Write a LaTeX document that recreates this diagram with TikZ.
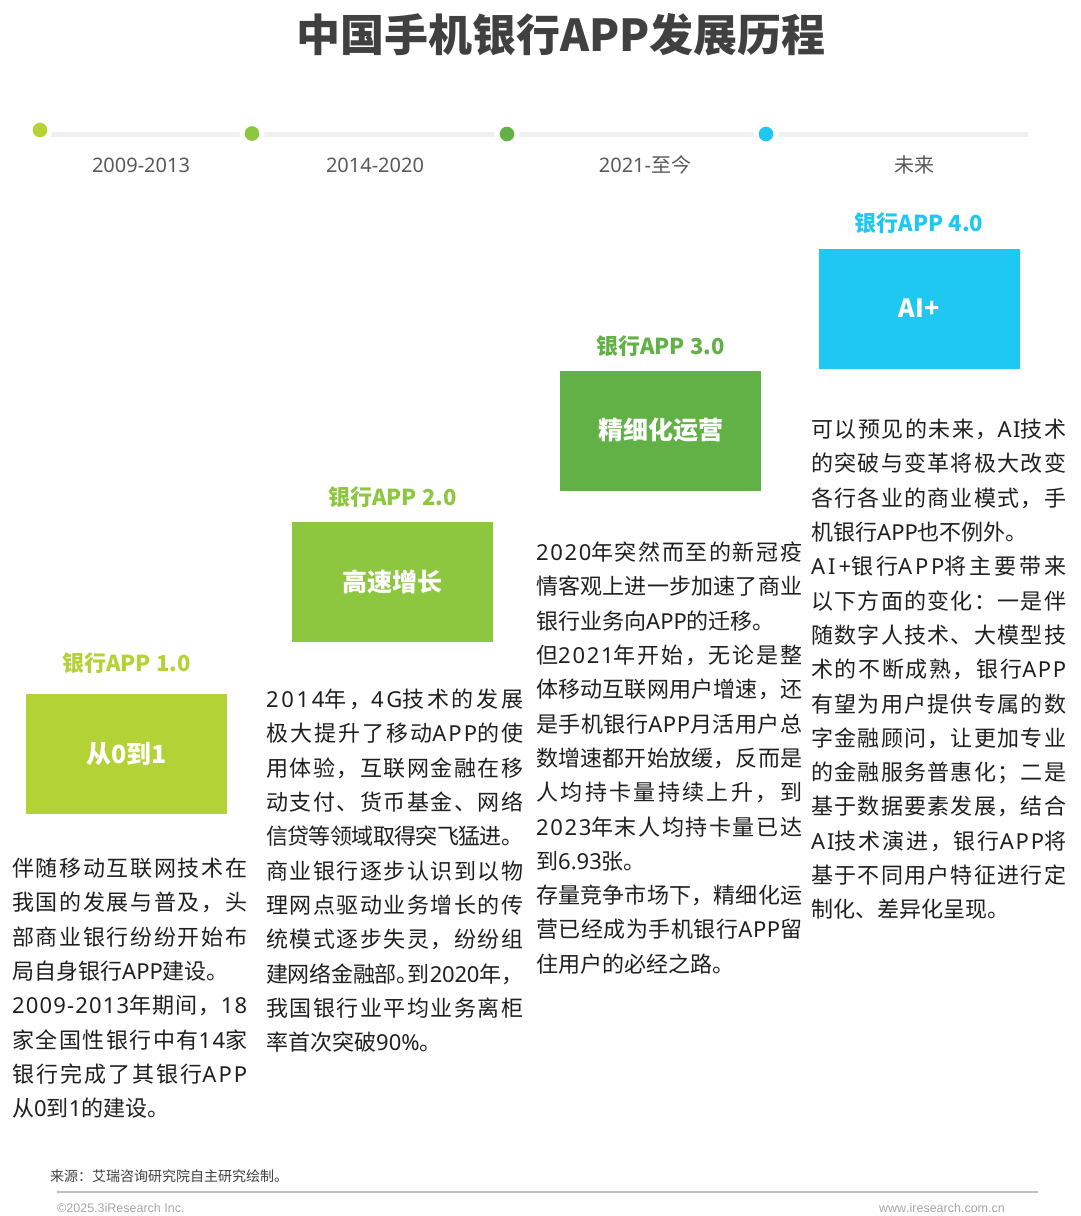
\documentclass[tikz,border=0pt]{standalone}
\usepackage{fontspec}
\setmainfont{Noto Sans CJK SC}
\newfontfamily\latf{Noto Sans}
\newfontfamily\arialf{Liberation Sans}
\newcommand\la[1]{{\latf #1}}
\XeTeXlinebreaklocale "zh"
\XeTeXlinebreakskip=0pt plus 4pt minus 1.5pt
\newskip\jskip
\jskip=0pt plus 4pt minus 1pt
\newcommand\jglue{\nobreak\hskip\jskip}
\XeTeXinterchartoks 0 0 = {\jglue}
\XeTeXinterchartoks 0 1 = {\jglue}
\XeTeXinterchartoks 1 0 = {\jglue}
\XeTeXinterchartoks 3 0 = {\jglue}
\XeTeXinterchartokenstate=1
\setlength\parindent{0pt}
\setlength\parskip{0pt}
\definecolor{ttl}{HTML}{404040}
\definecolor{per}{HTML}{595959}
\definecolor{txt}{HTML}{1F1F1F}
\definecolor{tl}{HTML}{F0F0F0}
\definecolor{cA}{HTML}{B3D235}
\definecolor{cB}{HTML}{8DC63F}
\definecolor{cC}{HTML}{62B146}
\definecolor{cD}{HTML}{1EC8F1}
\definecolor{foot}{HTML}{404040}
\definecolor{footgray}{HTML}{A6A6A6}
\definecolor{rule}{HTML}{C0C0C0}
\tikzset{
  dotn/.style={circle, fill=#1, draw=white, line width=5pt, minimum size=20pt, inner sep=0pt},
  period/.style={anchor=base, text=per, font=\fontsize{20}{24}\selectfont},
  stagetitle/.style={anchor=base, text=#1, font=\fontsize{22}{26}\selectfont\bfseries},
  stagebox/.style={fill=#1, minimum width=201pt, minimum height=120pt, inner sep=0pt,
     text=white, font=\fontsize{25}{30}\selectfont\bfseries},
  para/.style={anchor=north west, inner sep=0pt, text width=#1, align=justify,
     text=txt, font=\fontsize{22}{34.3}\selectfont}
}
\begin{document}
\begin{tikzpicture}[x=1pt,y=-1pt]
\useasboundingbox (0,0) rectangle (1080,1216);
% title
\node[anchor=base, text=ttl, font=\fontsize{44}{50}\selectfont\bfseries] (title) at (561,51) {中国手机银行APP发展历程};
% timeline
\coordinate (tlS) at (50,134);
\coordinate (tlE) at (1028,134);
\draw[tl, line width=5pt] (tlS) -- (tlE);
\node[dotn=cA] (d1) at (40,130) {};
\node[dotn=cB] (d2) at (252,133.5) {};
\node[dotn=cC] (d3) at (507,134) {};
\node[dotn=cD] (d4) at (766,134) {};
\node[period] (p1) at (141,172) {\la{2009-2013}};
\node[period] (p2) at (375,172) {\la{2014-2020}};
\node[period] (p3) at (645,172) {\la{2021-}至今};
\node[period] (p4) at (914,172) {未来};
% stage titles and boxes
\node[stagetitle=cA] (t1) at (126.5,671) {银行APP 1.0};
\node[stagebox=cA] (b1) at (126.5,754) {从0到1};
\node[stagetitle=cB] (t2) at (392.5,505) {银行APP 2.0};
\node[stagebox=cB] (b2) at (392.5,582) {高速增长};
\node[stagetitle=cC] (t3) at (660.5,354) {银行APP 3.0};
\node[stagebox=cC] (b3) at (660.5,430.5) {精细化运营};
\node[stagetitle=cD] (t4) at (919,231) {银行APP 4.0};
\node[stagebox=cD] (b4) at (919,308.5) {AI+};
% paragraphs
\node[para=235pt] (x1) at (12,852.4) {\strut 伴随移动互联网技术在\linebreak
我国的发展与普及，头\linebreak
部商业银行纷纷开始布\linebreak
局自身银行\la{APP}建设。\par
\la{2009-2013}年期间，\la{18}\linebreak
家全国性银行中有\la{14}家\linebreak
银行完成了其银行\la{APP}\linebreak
从\la{0}到\la{1}的建设。};
\node[para=257pt] (x2) at (266,683.4) {\strut \la{2014}年，\la{4G}技术的发展\linebreak
极大提升了移动\la{APP}的使\linebreak
用体验，互联网金融在移\linebreak
动支付、货币基金、网络\linebreak
信贷等领域取得突飞猛进。\par
商业银行逐步认识到以物\linebreak
理网点驱动业务增长的传\linebreak
统模式逐步失灵，纷纷组\linebreak
建网络金融部{\addfontfeature{RawFeature=+halt}。}到\la{2020}年，\linebreak
我国银行业平均业务离柜\linebreak
率首次突破\la{90\%}。};
\node[para=266pt] (x3) at (536,536.4) {\strut \la{2020}年突然而至的新冠疫\linebreak
情客观上进一步加速了商业\linebreak
银行业务向\la{APP}的迁移。\par
但\la{2021}年开始，无论是整\linebreak
体移动互联网用户增速，还\linebreak
是手机银行\la{APP}月活用户总\linebreak
数增速都开始放缓，反而是\linebreak
人均持卡量持续上升，到\linebreak
\la{2023}年末人均持卡量已达\linebreak
到\la{6.93}张。\par
存量竞争市场下，精细化运\linebreak
营已经成为手机银行\la{APP}留\linebreak
住用户的必经之路。};
\node[para=255pt] (x4) at (811,413.4) {\strut 可以预见的未来，\la{AI}技术\linebreak
的突破与变革将极大改变\linebreak
各行各业的商业模式，手\linebreak
机银行\la{APP}也不例外。\par
\la{AI+}银行\la{APP}将主要带来\linebreak
以下方面的变化：一是伴\linebreak
随数字人技术、大模型技\linebreak
术的不断成熟，银行\la{APP}\linebreak
有望为用户提供专属的数\linebreak
字金融顾问，让更加专业\linebreak
的金融服务普惠化；二是\linebreak
基于数据要素发展，结合\linebreak
\la{AI}技术演进，银行\la{APP}将\linebreak
基于不同用户特征进行定\linebreak
制化、差异化呈现。};
% footer
\node[anchor=base west, inner sep=0pt, text=foot, font=\fontsize{14}{16}\selectfont] (src) at (50,1181) {来源：艾瑞咨询研究院自主研究绘制。};
\coordinate (rS) at (57,1192);
\coordinate (rE) at (1038,1192);
\draw[rule, line width=1.6pt] (rS) -- (rE);
\node[anchor=base west, inner sep=0pt, text=footgray, font=\arialf\fontsize{12.5}{14}\selectfont] (copy) at (57,1212) {©2025.3iResearch Inc.};
\node[anchor=base east, inner sep=0pt, text=footgray, font=\arialf\fontsize{12.5}{14}\selectfont] (web) at (1005,1212) {www.iresearch.com.cn};
\end{tikzpicture}
\end{document}
